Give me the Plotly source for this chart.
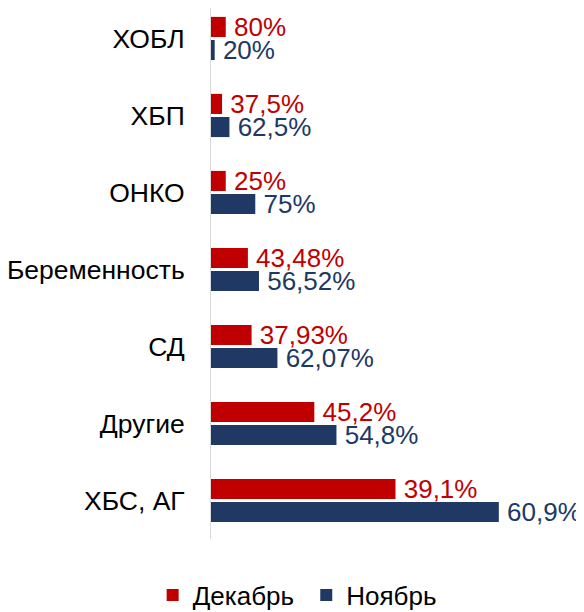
import plotly.graph_objects as go

categories = ["ХОБЛ", "ХБП", "ОНКО", "Беременность", "СД", "Другие", "ХБС, АГ"]
dec_values = [4, 3, 4, 10, 11, 28, 50]
nov_values = [1, 5, 12, 13, 18, 34, 78]
dec_labels = ["80%", "37,5%", "25%", "43,48%", "37,93%", "45,2%", "39,1%"]
nov_labels = ["20%", "62,5%", "75%", "56,52%", "62,07%", "54,8%", "60,9%"]

RED = "#C00000"
NAVY = "#203864"
FONT = "Liberation Sans, Arial, sans-serif"
SP = "\u2009"

fig = go.Figure()
fig.add_trace(go.Bar(
    y=categories, x=dec_values, orientation="h", name="Декабрь ",
    marker=dict(color=RED, line=dict(width=0)),
    text=[SP + t for t in dec_labels], textposition="outside", constraintext="none",
    textfont=dict(color=RED, size=26, family=FONT), cliponaxis=False,
))
fig.add_trace(go.Bar(
    y=categories, x=nov_values, orientation="h", name="Ноябрь",
    marker=dict(color=NAVY, line=dict(width=0)),
    text=[SP + t for t in nov_labels], textposition="outside", constraintext="none",
    textfont=dict(color=NAVY, size=26, family=FONT), cliponaxis=False,
))

fig.update_layout(
    width=576, height=604,
    margin=dict(l=203, r=4, t=0, b=73, autoexpand=False),
    paper_bgcolor="white", plot_bgcolor="white",
    barmode="group", bargap=0.4, bargroupgap=0.13,
    font=dict(family=FONT, size=26, color="black"),
    xaxis=dict(range=[0, 100], showgrid=False, zeroline=False,
               showticklabels=False, showline=False, automargin=False),
    yaxis=dict(range=[6.5, -0.396], showgrid=False, showline=True,
               linecolor="#d9d9d9", linewidth=1, ticks="",
               ticklabelstandoff=20, automargin=False,
               tickfont=dict(size=26.5, color="black", family=FONT)),
    legend=dict(orientation="h", xref="container", yref="container",
                x=0.502, y=0.028, xanchor="center", yanchor="middle",
                font=dict(size=26, color="black", family=FONT)),
)

fig.write_html("out.html")
